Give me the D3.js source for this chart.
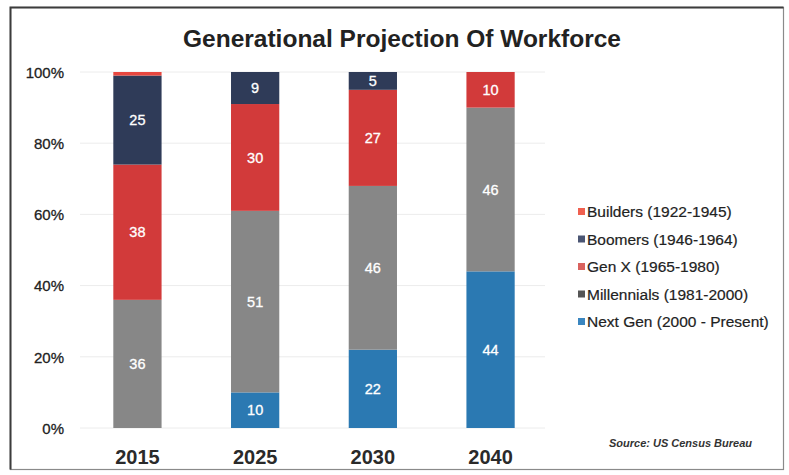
<!DOCTYPE html>
<html>
<head>
<meta charset="utf-8">
<script src="https://cdn.jsdelivr.net/npm/d3@7"></script>
<style>
  html, body { margin: 0; padding: 0; background: #fff; }
  svg { display: block; font-family: "Liberation Sans", Arial, sans-serif; }
</style>
</head>
<body>
<svg id="chart" width="789" height="475"></svg>
<script>
// Workforce share by generation (percent of total)
const years = ["2015", "2025", "2030", "2040"];
const generations = ["Next Gen", "Millennials", "Gen X", "Boomers", "Builders"];
const nextGen     = [0, 10, 22, 44];
const millennials = [36, 51, 46, 46];
const genX        = [38, 30, 27, 10];
const boomers     = [25, 9, 5, 0];
const builders    = [1, 0, 0, 0];
const yTicks = [0, 20, 40, 60, 80, 100];
const legendLabels = [
  "Builders (1922-1945)",
  "Boomers (1946-1964)",
  "Gen X (1965-1980)",
  "Millennials (1981-2000)",
  "Next Gen (2000 - Present)"
];
const legendKeys = ["Builders", "Boomers", "Gen X", "Millennials", "Next Gen"];

const colors = {
  "Next Gen": "#2b79b2",
  "Millennials": "#878787",
  "Gen X": "#d23a3a",
  "Boomers": "#2f3b58",
  "Builders": "#e8473f"
};
const legendColors = {
  "Next Gen": "#3a86c0",
  "Millennials": "#555555",
  "Gen X": "#d9625e",
  "Boomers": "#4a5573",
  "Builders": "#f0604f"
};

const seriesValues = [nextGen, millennials, genX, boomers, builders];
const table = years.map((yr, i) => {
  const row = { year: yr };
  generations.forEach((g, k) => { row[g] = seriesValues[k][i]; });
  return row;
});

const svg = d3.select("#chart");

// outer frame
svg.append("rect")
  .attr("x", 10.5).attr("y", 7.5)
  .attr("width", 773).attr("height", 462)
  .attr("fill", "none")
  .attr("stroke", "#8a8a8a")
  .attr("stroke-width", 1.2);
svg.append("path")
  .attr("d", "M10.5,469.5 V7.5 H783.5")
  .attr("fill", "none")
  .attr("stroke", "#3c3c3c")
  .attr("stroke-width", 2);

const plot = { left: 80, right: 545, top: 72, bottom: 428 };

const x = d3.scaleBand()
  .domain(years)
  .range([78, 550])
  .paddingInner(0.59)
  .paddingOuter(0.3);

const y = d3.scaleLinear()
  .domain([0, 100])
  .range([plot.bottom, plot.top]);

// grid lines
svg.append("g")
  .selectAll("line")
  .data(yTicks)
  .join("line")
  .attr("x1", plot.left).attr("x2", plot.right)
  .attr("y1", d => y(d)).attr("y2", d => y(d))
  .attr("stroke", "#ececec")
  .attr("stroke-width", 1);

// y axis labels
const yAxis = d3.axisLeft(y)
  .tickValues(yTicks)
  .tickFormat(d => d + "%")
  .tickSize(0)
  .tickPadding(0);
svg.append("g")
  .attr("transform", "translate(64,0)")
  .call(yAxis)
  .call(g => g.select(".domain").remove())
  .call(g => g.selectAll("text")
    .attr("font-size", 15)
    .attr("font-family", "Liberation Sans, Arial, sans-serif")
    .attr("fill", "#222")
    .attr("stroke", "#222")
    .attr("stroke-width", 0.3)
    .attr("dy", "0.35em"));

// stacked bars
const stacked = d3.stack().keys(generations)(table);

const layers = svg.append("g")
  .selectAll("g")
  .data(stacked)
  .join("g")
  .attr("fill", d => colors[d.key]);

layers.selectAll("rect")
  .data(d => d.map(p => ({ key: d.key, p })))
  .join("rect")
  .attr("x", d => x(d.p.data.year))
  .attr("width", x.bandwidth())
  .attr("y", d => y(d.p[1]))
  .attr("height", d => y(d.p[0]) - y(d.p[1]));

// value labels
const labelLayer = svg.append("g")
  .attr("text-anchor", "middle")
  .attr("font-size", 14.5)
  .attr("fill", "#ffffff")
  .attr("stroke", "#ffffff")
  .attr("stroke-width", 0.3);

stacked.forEach(layer => {
  layer.forEach(p => {
    const v = p[1] - p[0];
    if (v < 3) return;
    labelLayer.append("text")
      .attr("x", x(p.data.year) + x.bandwidth() / 2)
      .attr("y", y((p[0] + p[1]) / 2))
      .attr("dy", "0.36em")
      .text(v);
  });
});

// x axis labels
const xAxis = d3.axisBottom(x).tickSize(0).tickPadding(0);
svg.append("g")
  .attr("transform", "translate(0,457)")
  .call(xAxis)
  .call(g => g.select(".domain").remove())
  .call(g => g.selectAll("text")
    .attr("font-size", 20)
    .attr("font-weight", "bold")
    .attr("font-family", "Liberation Sans, Arial, sans-serif")
    .attr("fill", "#2a2a2a")
    .attr("dy", "0.35em"));

// title
svg.append("text")
  .attr("x", 402)
  .attr("y", 47)
  .attr("text-anchor", "middle")
  .attr("font-size", 24.5)
  .attr("font-weight", "bold")
  .attr("fill", "#222")
  .text("Generational Projection Of Workforce");

// legend
const legend = svg.append("g").attr("transform", "translate(578,212)");
const rows = legend.selectAll("g")
  .data(legendKeys)
  .join("g")
  .attr("transform", (d, i) => `translate(0,${i * 27.5})`);
rows.append("rect")
  .attr("x", 0).attr("y", -4)
  .attr("width", 7).attr("height", 7)
  .attr("fill", d => legendColors[d]);
rows.append("text")
  .attr("x", 9)
  .attr("dy", "0.35em")
  .attr("font-size", 15.5)
  .attr("fill", "#222")
  .attr("stroke", "#222")
  .attr("stroke-width", 0.2)
  .text((d, i) => legendLabels[i]);

// source note
svg.append("text")
  .attr("x", 752)
  .attr("y", 447)
  .attr("text-anchor", "end")
  .attr("font-size", 11)
  .attr("font-style", "italic")
  .attr("font-weight", "bold")
  .attr("fill", "#333")
  .attr("font-family", "Liberation Sans Narrow, Liberation Sans, Arial, sans-serif")
  .text("Source: US Census Bureau");
</script>
</body>
</html>
